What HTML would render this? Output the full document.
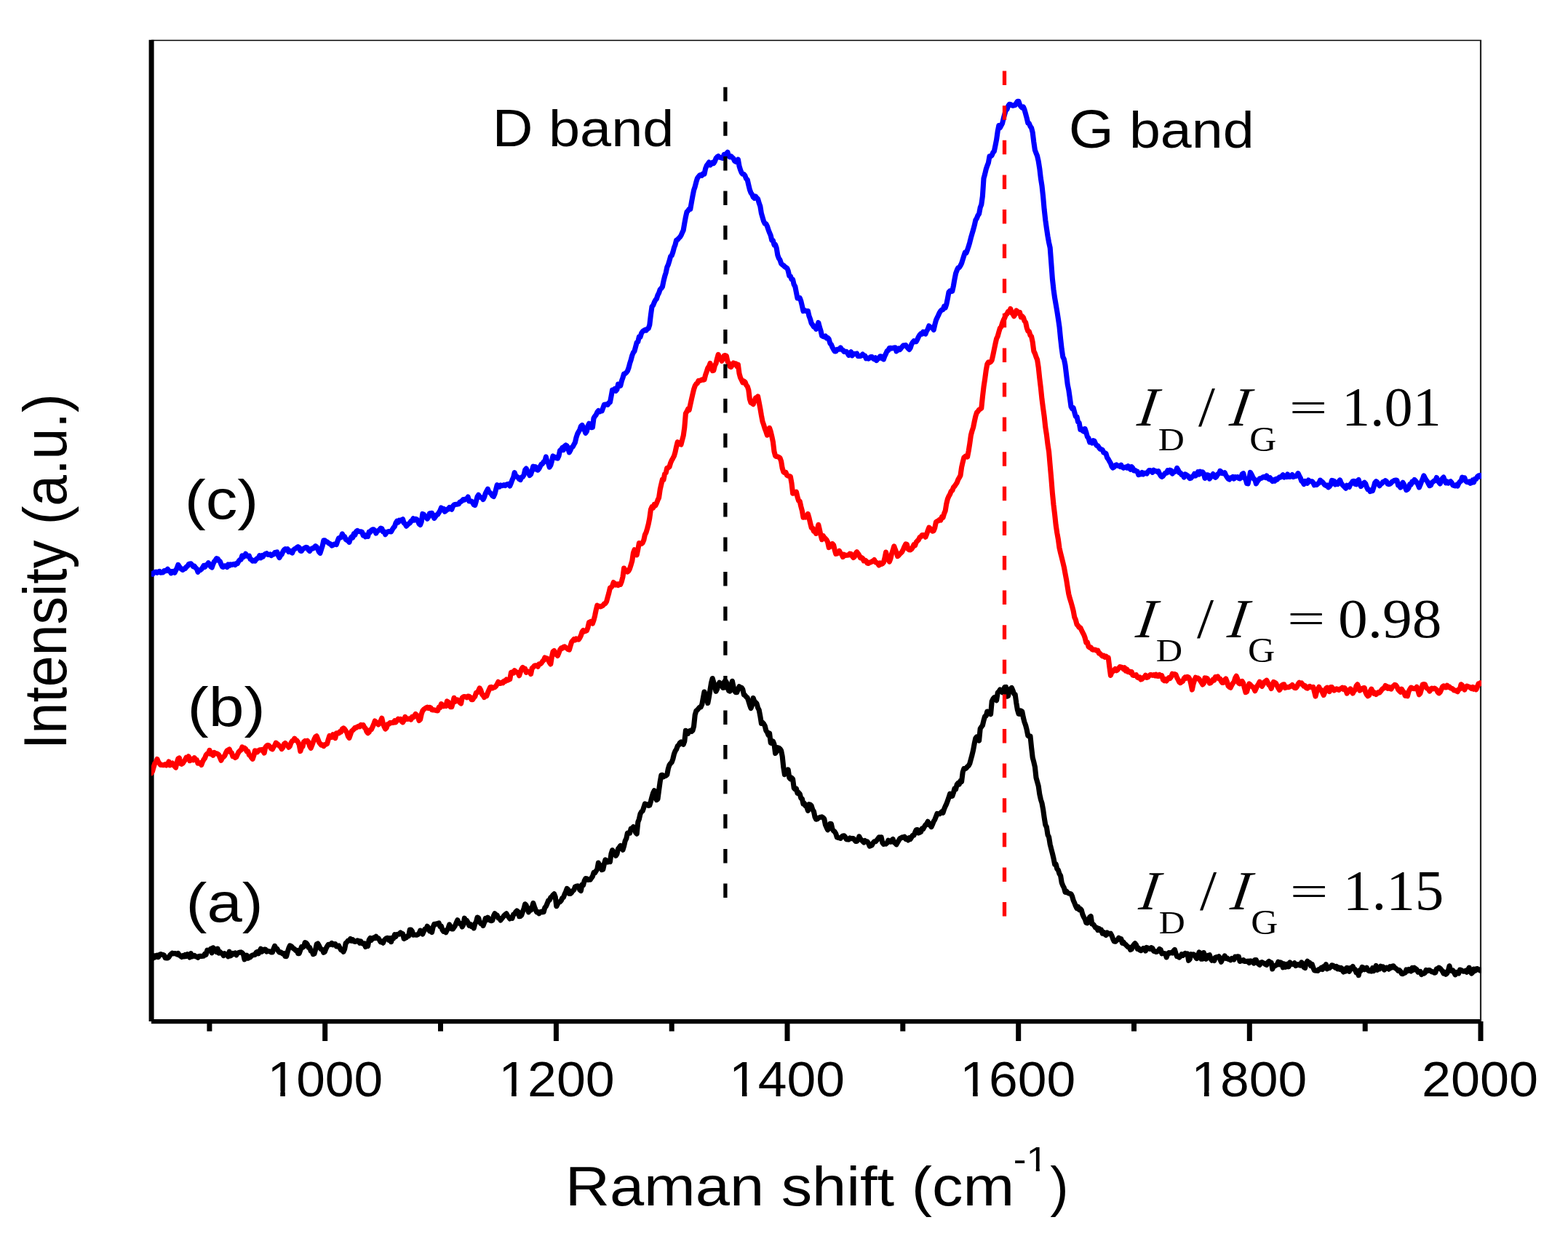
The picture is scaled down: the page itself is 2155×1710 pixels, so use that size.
<!DOCTYPE html>
<html><head><meta charset="utf-8"><title>Raman spectra</title>
<style>
html,body{margin:0;padding:0;background:#fff;}
svg{display:block;}

</style></head><body>
<svg width="2155" height="1710" viewBox="0 0 2155 1710">
<rect x="0" y="0" width="2155" height="1710" fill="#fff"/>

<g fill="#000">
<rect x="204.6" y="54.8" width="7" height="1349.2"/>
<rect x="208" y="1401" width="1827.5" height="6.2"/>
<rect x="443.2" y="1404" width="7" height="27"/>
<rect x="760.9" y="1404" width="7" height="27"/>
<rect x="1078.5" y="1404" width="7" height="27"/>
<rect x="1396.2" y="1404" width="7" height="27"/>
<rect x="1713.8" y="1404" width="7" height="27"/>
<rect x="2031.5" y="1404" width="7" height="27"/>
<rect x="284.4" y="1404" width="7" height="13.6"/>
<rect x="602.0" y="1404" width="7" height="13.6"/>
<rect x="919.7" y="1404" width="7" height="13.6"/>
<rect x="1237.3" y="1404" width="7" height="13.6"/>
<rect x="1555.0" y="1404" width="7" height="13.6"/>
<rect x="1872.7" y="1404" width="7" height="13.6"/>
</g>
<line x1="208" y1="55.6" x2="2036" y2="55.6" stroke="#000" stroke-width="1.5"/>
<line x1="2035" y1="55" x2="2035" y2="1404" stroke="#222" stroke-width="2.2"/>
<defs><clipPath id="pc"><rect x="208" y="40" width="1828" height="1364"/></clipPath></defs>
<g clip-path="url(#pc)" fill="none" stroke-width="7.1" stroke-linejoin="round" stroke-linecap="round">
<polyline stroke="#0000ff" points="208.0,788.5 209.6,789.4 211.2,787.6 212.8,786.5 214.4,786.1 216.0,787.3 217.6,786.0 219.2,785.4 220.8,787.2 222.4,787.0 224.0,786.9 225.6,784.5 227.2,785.0 228.8,784.3 230.4,782.3 232.0,785.1 233.6,785.1 235.2,787.9 236.8,785.5 238.4,785.4 240.0,787.3 241.6,784.2 243.2,780.9 244.8,776.4 246.4,778.7 248.0,781.2 249.6,782.4 251.2,783.4 252.8,781.8 254.4,781.7 256.0,779.4 257.6,778.3 259.2,775.8 260.8,775.0 262.4,774.9 264.0,776.7 265.6,778.8 267.2,778.2 268.8,780.5 270.4,781.9 272.0,786.3 273.6,784.0 275.2,783.7 276.8,782.5 278.4,780.2 280.0,777.5 281.6,779.4 283.2,776.6 284.8,776.7 286.4,773.7 288.0,775.7 289.6,778.8 291.2,780.0 292.8,775.5 294.4,772.1 296.0,770.2 297.6,767.7 299.2,768.1 300.8,770.7 302.4,771.7 304.0,776.0 305.6,779.2 307.2,779.4 308.8,777.7 310.4,778.1 312.0,779.4 313.6,776.0 315.2,777.5 316.8,775.9 318.4,776.5 320.0,775.7 321.6,775.4 323.2,776.5 324.8,774.5 326.4,774.7 328.0,771.5 329.6,769.6 331.2,769.1 332.8,763.8 334.4,765.7 336.0,764.4 337.6,761.3 339.2,764.2 340.8,764.7 342.4,764.1 344.0,768.5 345.6,769.3 347.2,771.2 348.8,770.6 350.4,771.2 352.0,768.8 353.6,767.6 355.2,767.0 356.8,763.6 358.4,766.8 360.0,763.6 361.6,764.9 363.2,762.5 364.8,761.3 366.4,760.7 368.0,762.4 369.6,762.2 371.2,761.9 372.8,763.6 374.4,762.4 376.0,762.0 377.6,759.6 379.2,759.4 380.8,758.8 382.4,763.6 384.0,766.6 385.6,763.6 387.2,762.2 388.8,758.4 390.4,755.8 392.0,754.6 393.6,756.1 395.2,754.7 396.8,758.5 398.4,757.3 400.0,759.1 401.6,760.1 403.2,756.3 404.8,754.7 406.4,754.0 408.0,752.5 409.6,751.6 411.2,752.7 412.8,757.0 414.4,757.5 416.0,754.8 417.6,754.1 419.2,753.1 420.8,752.2 422.4,752.8 424.0,755.9 425.6,757.5 427.2,755.0 428.8,753.9 430.4,753.9 432.0,752.1 433.6,750.7 435.2,751.9 436.8,755.0 438.4,758.6 440.0,760.3 441.6,755.1 443.2,750.2 444.8,742.9 446.4,742.8 448.0,744.7 449.6,744.8 451.2,746.2 452.8,747.2 454.4,748.0 456.0,750.0 457.6,749.2 459.2,748.1 460.8,748.0 462.4,748.5 464.0,743.6 465.6,739.7 467.2,739.3 468.8,738.7 470.4,733.9 472.0,737.7 473.6,737.6 475.2,741.4 476.8,742.4 478.4,743.5 480.0,745.3 481.6,740.3 483.2,737.9 484.8,738.9 486.4,733.6 488.0,735.2 489.6,730.5 491.2,729.3 492.8,730.5 494.4,730.7 496.0,730.7 497.6,731.5 499.2,736.1 500.8,735.2 502.4,737.8 504.0,736.5 505.6,737.4 507.2,731.2 508.8,731.6 510.4,729.0 512.0,727.9 513.6,727.9 515.2,729.6 516.8,733.1 518.4,730.2 520.0,729.3 521.6,728.4 523.2,726.1 524.8,726.6 526.4,730.9 528.0,730.9 529.6,734.7 531.2,732.0 532.8,730.9 534.4,730.6 536.0,730.6 537.6,730.9 539.2,727.9 540.8,725.4 542.4,723.6 544.0,718.9 545.6,716.3 547.2,718.0 548.8,715.1 550.4,716.0 552.0,714.7 553.6,713.8 555.2,719.0 556.8,720.2 558.4,723.2 560.0,721.6 561.6,720.0 563.2,719.0 564.8,716.5 566.4,715.7 568.0,712.8 569.6,715.0 571.2,713.4 572.8,713.9 574.4,716.3 576.0,720.2 577.6,721.4 579.2,717.3 580.8,706.4 582.4,707.2 584.0,709.6 585.6,710.9 587.2,713.1 588.8,710.9 590.4,705.7 592.0,705.5 593.6,705.3 595.2,709.1 596.8,712.4 598.4,710.2 600.0,707.8 601.6,707.2 603.2,704.6 604.8,702.1 606.4,698.0 608.0,700.0 609.6,699.4 611.2,703.2 612.8,702.2 614.4,700.0 616.0,700.1 617.6,697.5 619.2,699.2 620.8,700.2 622.4,695.9 624.0,694.0 625.6,693.5 627.2,693.2 628.8,693.1 630.4,692.8 632.0,690.2 633.6,689.5 635.2,688.2 636.8,686.5 638.4,687.1 640.0,685.9 641.6,685.6 643.2,683.1 644.8,689.0 646.4,689.0 648.0,689.0 649.6,690.9 651.2,693.7 652.8,694.4 654.4,688.9 656.0,682.9 657.6,680.2 659.2,682.9 660.8,683.6 662.4,684.4 664.0,686.5 665.6,683.4 667.2,678.4 668.8,675.2 670.4,672.2 672.0,676.3 673.6,677.4 675.2,679.1 676.8,681.5 678.4,682.5 680.0,679.0 681.6,672.8 683.2,666.7 684.8,667.9 686.4,669.1 688.0,666.9 689.6,667.7 691.2,667.3 692.8,666.6 694.4,667.6 696.0,666.3 697.6,665.5 699.2,665.3 700.8,667.9 702.4,664.1 704.0,659.6 705.6,656.3 707.2,649.7 708.8,654.0 710.4,655.2 712.0,656.4 713.6,658.6 715.2,659.6 716.8,655.9 718.4,655.6 720.0,653.0 721.6,646.2 723.2,644.0 724.8,647.7 726.4,650.0 728.0,653.5 729.6,652.0 731.2,646.7 732.8,641.1 734.4,644.9 736.0,641.7 737.6,645.4 739.2,646.2 740.8,644.3 742.4,641.1 744.0,638.3 745.6,637.5 747.2,634.8 748.8,633.8 750.4,628.0 752.0,634.7 753.6,636.7 755.2,642.2 756.8,639.7 758.4,634.0 760.0,626.9 761.6,628.6 763.2,628.4 764.8,629.8 766.4,630.1 768.0,626.8 769.6,619.3 771.2,618.3 772.8,615.4 774.4,618.6 776.0,613.2 777.6,611.9 779.2,613.0 780.8,617.0 782.4,621.8 784.0,618.9 785.6,615.0 787.2,614.1 788.8,611.1 790.4,608.3 792.0,601.3 793.6,596.5 795.2,593.5 796.8,590.9 798.4,585.8 800.0,584.4 801.6,587.6 803.2,591.0 804.8,595.4 806.4,592.9 808.0,585.6 809.6,582.3 811.2,585.2 812.8,587.7 814.4,587.5 816.0,574.8 817.6,572.2 819.2,570.2 820.8,566.7 822.4,564.5 824.0,565.9 825.6,564.9 827.2,565.0 828.8,560.7 830.4,556.3 832.0,556.0 833.6,555.9 835.2,556.4 836.8,553.8 838.4,553.1 840.0,544.8 841.6,536.0 843.2,536.1 844.8,534.5 846.4,537.4 848.0,535.3 849.6,528.1 851.2,528.8 852.8,530.2 854.4,523.7 856.0,519.1 857.6,513.9 859.2,513.5 860.8,512.1 862.4,510.1 864.0,505.8 865.6,499.5 867.2,494.6 868.8,488.5 870.4,484.6 872.0,482.7 873.6,476.7 875.2,470.8 876.8,469.6 878.4,462.8 880.0,463.1 881.6,458.0 883.2,455.6 884.8,454.4 886.4,453.4 888.0,454.2 889.6,452.2 891.2,451.3 892.8,446.6 894.4,432.9 896.0,421.5 897.6,419.7 899.2,415.7 900.8,412.5 902.4,410.6 904.0,405.6 905.6,402.6 907.2,397.8 908.8,396.4 910.4,394.2 912.0,386.4 913.6,379.9 915.2,374.8 916.8,367.3 918.4,363.8 920.0,358.4 921.6,352.6 923.2,351.3 924.8,346.8 926.4,340.6 928.0,336.4 929.6,330.1 931.2,329.5 932.8,327.5 934.4,326.0 936.0,323.6 937.6,319.9 939.2,316.4 940.8,306.8 942.4,298.2 944.0,291.3 945.6,289.7 947.2,287.4 948.8,287.4 950.4,278.2 952.0,269.4 953.6,261.4 955.2,256.6 956.8,250.3 958.4,245.1 960.0,242.9 961.6,240.9 963.2,240.4 964.8,241.2 966.4,238.6 968.0,239.2 969.6,231.8 971.2,227.7 972.8,225.5 974.4,223.1 976.0,226.9 977.6,225.4 979.2,223.5 980.8,224.6 982.4,222.0 984.0,217.6 985.6,215.8 987.2,214.7 988.8,216.3 990.4,216.5 992.0,217.1 993.6,217.5 995.2,212.3 996.8,212.5 998.4,211.7 1000.0,209.3 1001.6,214.6 1003.2,215.8 1004.8,214.8 1006.4,216.4 1008.0,217.8 1009.6,221.3 1011.2,222.3 1012.8,221.1 1014.4,219.2 1016.0,228.4 1017.6,233.5 1019.2,237.5 1020.8,239.3 1022.4,239.5 1024.0,241.7 1025.6,245.7 1027.2,247.1 1028.8,254.1 1030.4,260.8 1032.0,265.1 1033.6,267.1 1035.2,270.9 1036.8,272.4 1038.4,270.0 1040.0,272.0 1041.6,273.6 1043.2,279.1 1044.8,283.4 1046.4,293.3 1048.0,298.7 1049.6,304.2 1051.2,307.3 1052.8,307.7 1054.4,310.8 1056.0,315.7 1057.6,319.9 1059.2,323.7 1060.8,330.3 1062.4,330.6 1064.0,336.6 1065.6,336.3 1067.2,341.0 1068.8,350.7 1070.4,355.0 1072.0,357.3 1073.6,362.2 1075.2,363.9 1076.8,364.8 1078.4,366.5 1080.0,367.6 1081.6,368.5 1083.2,372.2 1084.8,379.3 1086.4,379.7 1088.0,384.0 1089.6,384.2 1091.2,391.2 1092.8,393.8 1094.4,401.9 1096.0,409.9 1097.6,409.9 1099.2,409.5 1100.8,413.7 1102.4,420.5 1104.0,427.6 1105.6,426.5 1107.2,427.3 1108.8,427.8 1110.4,427.6 1112.0,434.6 1113.6,438.8 1115.2,444.4 1116.8,446.5 1118.4,449.2 1120.0,449.3 1121.6,452.3 1123.2,448.1 1124.8,443.5 1126.4,449.7 1128.0,454.5 1129.6,461.6 1131.2,462.6 1132.8,462.9 1134.4,461.9 1136.0,464.9 1137.6,464.3 1139.2,466.1 1140.8,471.9 1142.4,473.5 1144.0,477.4 1145.6,480.4 1147.2,483.0 1148.8,483.0 1150.4,480.2 1152.0,480.3 1153.6,480.2 1155.2,477.9 1156.8,480.5 1158.4,481.2 1160.0,483.4 1161.6,483.5 1163.2,483.3 1164.8,485.5 1166.4,488.3 1168.0,485.0 1169.6,483.7 1171.2,488.8 1172.8,487.1 1174.4,486.2 1176.0,486.6 1177.6,486.0 1179.2,489.4 1180.8,489.6 1182.4,489.4 1184.0,488.7 1185.6,487.1 1187.2,488.8 1188.8,489.1 1190.4,492.8 1192.0,491.9 1193.6,493.1 1195.2,491.9 1196.8,490.6 1198.4,490.6 1200.0,492.7 1201.6,493.8 1203.2,491.8 1204.8,495.5 1206.4,492.9 1208.0,492.7 1209.6,489.7 1211.2,490.0 1212.8,493.0 1214.4,493.9 1216.0,489.4 1217.6,486.1 1219.2,482.4 1220.8,481.6 1222.4,478.4 1224.0,478.2 1225.6,479.0 1227.2,478.4 1228.8,478.0 1230.4,477.8 1232.0,482.8 1233.6,481.5 1235.2,479.0 1236.8,480.6 1238.4,478.5 1240.0,476.7 1241.6,474.9 1243.2,474.8 1244.8,474.4 1246.4,476.9 1248.0,478.7 1249.6,480.4 1251.2,478.2 1252.8,473.2 1254.4,470.6 1256.0,468.7 1257.6,469.7 1259.2,469.7 1260.8,466.7 1262.4,463.0 1264.0,460.4 1265.6,458.7 1267.2,459.2 1268.8,456.1 1270.4,457.7 1272.0,459.0 1273.6,454.8 1275.2,452.3 1276.8,448.0 1278.4,449.9 1280.0,450.0 1281.6,450.9 1283.2,453.4 1284.8,446.4 1286.4,440.3 1288.0,436.8 1289.6,433.5 1291.2,429.9 1292.8,427.4 1294.4,426.0 1296.0,425.6 1297.6,421.2 1299.2,423.0 1300.8,418.3 1302.4,410.3 1304.0,401.7 1305.6,399.9 1307.2,400.6 1308.8,400.2 1310.4,392.9 1312.0,383.7 1313.6,375.7 1315.2,371.4 1316.8,368.1 1318.4,367.6 1320.0,365.1 1321.6,361.9 1323.2,356.7 1324.8,351.7 1326.4,346.9 1328.0,347.6 1329.6,343.5 1331.2,338.7 1332.8,333.2 1334.4,326.8 1336.0,321.2 1337.6,315.9 1339.2,309.9 1340.8,302.7 1342.4,300.1 1344.0,296.1 1345.6,293.9 1347.2,285.3 1348.8,281.2 1350.4,269.5 1352.0,245.3 1353.6,239.5 1355.2,232.6 1356.8,227.8 1358.4,223.9 1360.0,214.9 1361.6,214.9 1363.2,213.5 1364.8,209.6 1366.4,207.8 1368.0,200.0 1369.6,191.9 1371.2,180.4 1372.8,172.5 1374.4,175.5 1376.0,172.5 1377.6,169.5 1379.2,162.7 1380.8,157.0 1382.4,151.3 1384.0,150.4 1385.6,145.9 1387.2,143.3 1388.8,143.5 1390.4,144.5 1392.0,145.3 1393.6,144.8 1395.2,144.5 1396.8,141.7 1398.4,139.4 1400.0,139.4 1401.6,144.2 1403.2,146.6 1404.8,148.0 1406.4,146.9 1408.0,150.7 1409.6,156.5 1411.2,162.4 1412.8,169.2 1414.4,169.7 1416.0,173.7 1417.6,175.9 1419.2,182.1 1420.8,195.3 1422.4,206.2 1424.0,210.4 1425.6,214.4 1427.2,221.6 1428.8,231.7 1430.4,245.4 1432.0,255.4 1433.6,270.2 1435.2,288.2 1436.8,302.5 1438.4,314.0 1440.0,324.6 1441.6,333.5 1443.2,340.6 1444.8,361.8 1446.4,383.5 1448.0,397.9 1449.6,409.4 1451.2,418.7 1452.8,428.0 1454.4,438.2 1456.0,449.2 1457.6,465.6 1459.2,479.8 1460.8,490.7 1462.4,493.9 1464.0,501.8 1465.6,515.0 1467.2,528.4 1468.8,536.1 1470.4,547.2 1472.0,558.9 1473.6,561.7 1475.2,560.8 1476.8,566.9 1478.4,572.6 1480.0,572.7 1481.6,580.0 1483.2,581.3 1484.8,590.5 1486.4,589.4 1488.0,592.2 1489.6,593.1 1491.2,589.5 1492.8,594.3 1494.4,600.3 1496.0,602.1 1497.6,607.8 1499.2,607.2 1500.8,608.9 1502.4,605.6 1504.0,606.1 1505.6,609.9 1507.2,612.5 1508.8,612.8 1510.4,615.2 1512.0,617.2 1513.6,617.6 1515.2,618.4 1516.8,622.0 1518.4,622.6 1520.0,623.6 1521.6,629.0 1523.2,631.1 1524.8,634.1 1526.4,636.8 1528.0,641.2 1529.6,643.1 1531.2,642.1 1532.8,639.7 1534.4,638.8 1536.0,640.2 1537.6,640.3 1539.2,641.4 1540.8,639.2 1542.4,642.0 1544.0,643.3 1545.6,642.6 1547.2,641.9 1548.8,643.1 1550.4,640.7 1552.0,642.0 1553.6,645.3 1555.2,641.6 1556.8,643.4 1558.4,646.9 1560.0,646.4 1561.6,647.7 1563.2,648.2 1564.8,652.7 1566.4,651.2 1568.0,651.9 1569.6,649.4 1571.2,651.9 1572.8,650.4 1574.4,650.4 1576.0,651.1 1577.6,648.8 1579.2,646.6 1580.8,646.5 1582.4,647.8 1584.0,649.3 1585.6,646.3 1587.2,647.4 1588.8,647.5 1590.4,648.5 1592.0,647.6 1593.6,651.3 1595.2,654.1 1596.8,655.3 1598.4,654.4 1600.0,652.0 1601.6,650.2 1603.2,650.2 1604.8,646.7 1606.4,648.7 1608.0,646.2 1609.6,646.8 1611.2,651.1 1612.8,648.9 1614.4,648.4 1616.0,648.1 1617.6,643.3 1619.2,646.0 1620.8,649.8 1622.4,650.0 1624.0,652.8 1625.6,652.7 1627.2,656.0 1628.8,651.8 1630.4,652.8 1632.0,653.6 1633.6,655.5 1635.2,657.6 1636.8,657.1 1638.4,655.2 1640.0,654.4 1641.6,651.3 1643.2,653.9 1644.8,652.3 1646.4,648.8 1648.0,652.1 1649.6,648.3 1651.2,650.6 1652.8,648.9 1654.4,651.1 1656.0,657.4 1657.6,653.2 1659.2,652.8 1660.8,653.2 1662.4,658.1 1664.0,655.7 1665.6,654.0 1667.2,651.6 1668.8,655.0 1670.4,656.3 1672.0,654.8 1673.6,651.7 1675.2,651.3 1676.8,647.3 1678.4,648.5 1680.0,650.8 1681.6,650.8 1683.2,649.7 1684.8,653.4 1686.4,655.9 1688.0,658.0 1689.6,659.1 1691.2,656.9 1692.8,657.2 1694.4,655.5 1696.0,658.1 1697.6,655.6 1699.2,656.1 1700.8,655.6 1702.4,657.4 1704.0,658.0 1705.6,656.1 1707.2,651.6 1708.8,650.8 1710.4,657.3 1712.0,658.6 1713.6,664.5 1715.2,664.9 1716.8,657.2 1718.4,649.4 1720.0,652.0 1721.6,655.3 1723.2,658.4 1724.8,659.3 1726.4,664.9 1728.0,661.9 1729.6,660.0 1731.2,657.8 1732.8,657.6 1734.4,656.9 1736.0,655.8 1737.6,655.5 1739.2,656.5 1740.8,653.9 1742.4,656.9 1744.0,658.5 1745.6,656.8 1747.2,660.0 1748.8,661.5 1750.4,659.8 1752.0,661.2 1753.6,658.5 1755.2,659.1 1756.8,657.2 1758.4,655.9 1760.0,656.1 1761.6,654.8 1763.2,652.8 1764.8,656.0 1766.4,654.6 1768.0,655.6 1769.6,652.0 1771.2,655.5 1772.8,655.4 1774.4,654.7 1776.0,652.5 1777.6,655.5 1779.2,654.8 1780.8,654.7 1782.4,653.4 1784.0,650.6 1785.6,653.8 1787.2,656.8 1788.8,661.3 1790.4,662.2 1792.0,665.5 1793.6,661.3 1795.2,662.5 1796.8,664.2 1798.4,660.0 1800.0,661.8 1801.6,661.7 1803.2,661.8 1804.8,663.5 1806.4,666.9 1808.0,665.8 1809.6,666.4 1811.2,664.8 1812.8,663.9 1814.4,660.1 1816.0,661.7 1817.6,662.6 1819.2,664.7 1820.8,666.6 1822.4,667.6 1824.0,667.0 1825.6,669.9 1827.2,668.7 1828.8,666.5 1830.4,660.4 1832.0,660.8 1833.6,661.4 1835.2,666.0 1836.8,665.4 1838.4,665.6 1840.0,661.8 1841.6,659.9 1843.2,664.0 1844.8,666.2 1846.4,667.9 1848.0,669.4 1849.6,671.3 1851.2,667.2 1852.8,668.3 1854.4,669.4 1856.0,665.7 1857.6,664.0 1859.2,661.5 1860.8,661.3 1862.4,665.4 1864.0,665.8 1865.6,661.0 1867.2,659.5 1868.8,665.0 1870.4,668.5 1872.0,666.6 1873.6,664.5 1875.2,663.3 1876.8,665.0 1878.4,669.6 1880.0,672.9 1881.6,673.3 1883.2,675.6 1884.8,674.9 1886.4,674.7 1888.0,669.6 1889.6,663.7 1891.2,661.7 1892.8,662.9 1894.4,665.5 1896.0,667.7 1897.6,665.6 1899.2,664.6 1900.8,662.2 1902.4,662.4 1904.0,660.7 1905.6,661.9 1907.2,665.2 1908.8,665.7 1910.4,665.2 1912.0,663.8 1913.6,661.9 1915.2,661.1 1916.8,660.2 1918.4,660.0 1920.0,660.5 1921.6,667.2 1923.2,667.8 1924.8,670.1 1926.4,665.7 1928.0,663.3 1929.6,665.9 1931.2,669.6 1932.8,673.6 1934.4,672.8 1936.0,670.8 1937.6,665.6 1939.2,666.1 1940.8,662.2 1942.4,662.8 1944.0,659.5 1945.6,661.1 1947.2,663.1 1948.8,665.9 1950.4,670.0 1952.0,666.4 1953.6,662.1 1955.2,658.6 1956.8,653.9 1958.4,657.0 1960.0,659.8 1961.6,661.7 1963.2,664.9 1964.8,667.7 1966.4,667.0 1968.0,663.3 1969.6,662.3 1971.2,660.7 1972.8,660.8 1974.4,656.5 1976.0,660.1 1977.6,663.0 1979.2,664.9 1980.8,660.7 1982.4,657.6 1984.0,656.1 1985.6,660.6 1987.2,663.9 1988.8,661.9 1990.4,664.1 1992.0,662.7 1993.6,661.7 1995.2,663.6 1996.8,667.1 1998.4,667.4 2000.0,668.0 2001.6,666.5 2003.2,668.0 2004.8,664.5 2006.4,662.1 2008.0,661.3 2009.6,656.1 2011.2,657.2 2012.8,656.8 2014.4,661.1 2016.0,662.5 2017.6,662.9 2019.2,662.0 2020.8,664.4 2022.4,663.6 2024.0,659.9 2025.6,662.8 2027.2,658.4 2028.8,658.5 2030.4,655.2 2032.0,653.9 2033.6,655.1 2034.5,653.5"/>
<polyline stroke="#ff0000" points="208.0,1062.8 209.6,1060.1 211.2,1054.4 212.8,1049.3 214.4,1047.5 216.0,1043.5 217.6,1047.3 219.2,1049.4 220.8,1051.5 222.4,1051.5 224.0,1051.6 225.6,1051.6 227.2,1050.6 228.8,1052.0 230.4,1050.5 232.0,1047.0 233.6,1051.9 235.2,1049.7 236.8,1049.0 238.4,1051.6 240.0,1053.4 241.6,1055.1 243.2,1047.9 244.8,1043.0 246.4,1041.9 248.0,1049.5 249.6,1050.3 251.2,1049.3 252.8,1046.9 254.4,1044.5 256.0,1041.3 257.6,1042.9 259.2,1039.8 260.8,1045.7 262.4,1044.8 264.0,1043.5 265.6,1044.8 267.2,1041.6 268.8,1044.7 270.4,1044.5 272.0,1049.3 273.6,1049.1 275.2,1048.8 276.8,1051.4 278.4,1047.2 280.0,1044.1 281.6,1042.0 283.2,1037.8 284.8,1036.0 286.4,1035.6 288.0,1031.3 289.6,1036.3 291.2,1036.0 292.8,1038.3 294.4,1034.4 296.0,1035.5 297.6,1035.7 299.2,1036.5 300.8,1037.6 302.4,1041.6 304.0,1045.2 305.6,1041.5 307.2,1040.5 308.8,1038.8 310.4,1035.0 312.0,1032.0 313.6,1030.9 315.2,1029.9 316.8,1033.8 318.4,1034.9 320.0,1039.8 321.6,1040.0 323.2,1041.6 324.8,1040.6 326.4,1037.0 328.0,1033.8 329.6,1032.1 331.2,1031.1 332.8,1026.9 334.4,1028.9 336.0,1028.2 337.6,1029.5 339.2,1033.0 340.8,1032.8 342.4,1037.6 344.0,1038.8 345.6,1041.5 347.2,1043.3 348.8,1038.7 350.4,1031.9 352.0,1032.3 353.6,1033.8 355.2,1031.8 356.8,1030.9 358.4,1030.8 360.0,1030.4 361.6,1032.5 363.2,1035.1 364.8,1027.2 366.4,1025.3 368.0,1024.3 369.6,1024.9 371.2,1026.9 372.8,1029.1 374.4,1029.9 376.0,1026.6 377.6,1024.9 379.2,1021.1 380.8,1022.3 382.4,1023.5 384.0,1025.5 385.6,1026.5 387.2,1029.6 388.8,1027.6 390.4,1022.8 392.0,1021.5 393.6,1023.6 395.2,1024.5 396.8,1027.2 398.4,1025.5 400.0,1021.1 401.6,1018.5 403.2,1017.9 404.8,1015.1 406.4,1017.2 408.0,1018.0 409.6,1020.3 411.2,1023.6 412.8,1032.6 414.4,1027.7 416.0,1026.2 417.6,1019.7 419.2,1018.4 420.8,1019.1 422.4,1018.2 424.0,1020.4 425.6,1025.5 427.2,1028.4 428.8,1024.5 430.4,1020.1 432.0,1015.9 433.6,1012.8 435.2,1011.8 436.8,1015.8 438.4,1020.1 440.0,1022.3 441.6,1024.2 443.2,1023.9 444.8,1025.6 446.4,1023.7 448.0,1023.2 449.6,1022.3 451.2,1016.5 452.8,1011.5 454.4,1013.4 456.0,1013.5 457.6,1009.8 459.2,1012.5 460.8,1014.6 462.4,1007.9 464.0,1007.9 465.6,1007.9 467.2,1005.6 468.8,1006.1 470.4,1001.9 472.0,1000.9 473.6,1002.1 475.2,1004.5 476.8,1007.1 478.4,1012.1 480.0,1014.3 481.6,1009.8 483.2,1005.1 484.8,1003.9 486.4,1002.2 488.0,1000.2 489.6,1000.4 491.2,999.0 492.8,998.4 494.4,998.9 496.0,996.4 497.6,997.3 499.2,996.6 500.8,999.9 502.4,1001.4 504.0,1005.8 505.6,1007.7 507.2,1006.3 508.8,1003.1 510.4,1002.7 512.0,999.3 513.6,995.8 515.2,991.0 516.8,992.5 518.4,993.8 520.0,995.9 521.6,994.6 523.2,991.0 524.8,987.2 526.4,994.3 528.0,998.7 529.6,1002.0 531.2,1000.4 532.8,995.6 534.4,995.3 536.0,993.5 537.6,993.8 539.2,993.4 540.8,993.5 542.4,990.7 544.0,992.7 545.6,990.6 547.2,988.3 548.8,989.2 550.4,988.5 552.0,991.6 553.6,992.8 555.2,990.4 556.8,985.4 558.4,988.4 560.0,988.5 561.6,988.0 563.2,987.9 564.8,989.1 566.4,985.5 568.0,986.1 569.6,984.0 571.2,981.5 572.8,983.0 574.4,985.9 576.0,990.5 577.6,989.0 579.2,981.7 580.8,977.1 582.4,975.2 584.0,974.0 585.6,973.0 587.2,972.2 588.8,973.6 590.4,972.3 592.0,973.0 593.6,975.8 595.2,976.0 596.8,975.8 598.4,976.3 600.0,976.7 601.6,976.9 603.2,972.1 604.8,972.7 606.4,967.6 608.0,968.9 609.6,970.8 611.2,969.8 612.8,970.5 614.4,963.9 616.0,964.9 617.6,969.7 619.2,971.7 620.8,971.8 622.4,966.3 624.0,959.3 625.6,964.3 627.2,961.8 628.8,962.0 630.4,963.7 632.0,965.7 633.6,967.0 635.2,959.1 636.8,958.0 638.4,957.5 640.0,957.7 641.6,958.8 643.2,957.1 644.8,957.3 646.4,958.6 648.0,961.7 649.6,961.6 651.2,958.9 652.8,957.4 654.4,952.4 656.0,951.9 657.6,949.2 659.2,945.9 660.8,948.8 662.4,954.3 664.0,956.0 665.6,958.6 667.2,955.6 668.8,956.6 670.4,952.2 672.0,948.5 673.6,944.8 675.2,944.4 676.8,945.9 678.4,944.9 680.0,944.7 681.6,943.2 683.2,940.4 684.8,937.3 686.4,939.4 688.0,939.4 689.6,938.1 691.2,938.8 692.8,936.1 694.4,936.6 696.0,934.1 697.6,935.2 699.2,934.3 700.8,933.7 702.4,924.5 704.0,924.0 705.6,925.0 707.2,921.6 708.8,923.8 710.4,924.1 712.0,924.8 713.6,928.7 715.2,923.9 716.8,919.7 718.4,917.4 720.0,919.0 721.6,919.1 723.2,924.3 724.8,922.8 726.4,923.6 728.0,923.6 729.6,926.5 731.2,918.5 732.8,917.2 734.4,915.2 736.0,914.8 737.6,914.7 739.2,916.2 740.8,912.7 742.4,912.7 744.0,911.6 745.6,909.1 747.2,907.7 748.8,904.0 750.4,904.8 752.0,905.0 753.6,907.5 755.2,910.6 756.8,912.9 758.4,902.9 760.0,895.8 761.6,894.5 763.2,899.1 764.8,899.9 766.4,901.4 768.0,897.6 769.6,893.3 771.2,890.8 772.8,891.3 774.4,889.4 776.0,888.8 777.6,890.3 779.2,891.1 780.8,892.6 782.4,893.1 784.0,887.8 785.6,882.5 787.2,880.6 788.8,878.6 790.4,879.7 792.0,878.0 793.6,878.9 795.2,879.1 796.8,876.9 798.4,873.7 800.0,868.6 801.6,866.5 803.2,868.1 804.8,867.4 806.4,866.7 808.0,862.4 809.6,855.3 811.2,854.8 812.8,854.1 814.4,857.1 816.0,852.6 817.6,846.3 819.2,838.5 820.8,832.1 822.4,833.8 824.0,833.3 825.6,833.9 827.2,833.1 828.8,832.2 830.4,830.0 832.0,829.5 833.6,826.9 835.2,820.9 836.8,815.2 838.4,808.2 840.0,807.3 841.6,805.4 843.2,800.5 844.8,802.3 846.4,804.0 848.0,802.9 849.6,804.5 851.2,802.6 852.8,803.3 854.4,799.2 856.0,792.8 857.6,781.0 859.2,783.9 860.8,784.1 862.4,786.1 864.0,784.6 865.6,781.5 867.2,776.4 868.8,771.0 870.4,759.9 872.0,755.7 873.6,758.1 875.2,762.8 876.8,755.1 878.4,746.5 880.0,747.7 881.6,747.5 883.2,746.2 884.8,742.4 886.4,735.1 888.0,731.9 889.6,726.5 891.2,720.4 892.8,712.2 894.4,700.4 896.0,696.8 897.6,698.0 899.2,693.5 900.8,694.9 902.4,691.7 904.0,687.4 905.6,684.1 907.2,672.9 908.8,665.9 910.4,659.1 912.0,659.2 913.6,651.4 915.2,649.8 916.8,643.2 918.4,642.9 920.0,641.7 921.6,636.4 923.2,632.7 924.8,629.9 926.4,626.9 928.0,621.5 929.6,614.1 931.2,607.6 932.8,609.8 934.4,610.0 936.0,611.0 937.6,604.8 939.2,598.9 940.8,587.5 942.4,568.3 944.0,565.7 945.6,562.3 947.2,563.6 948.8,556.0 950.4,548.7 952.0,541.7 953.6,535.1 955.2,530.3 956.8,527.8 958.4,526.7 960.0,523.3 961.6,523.3 963.2,522.8 964.8,521.8 966.4,522.3 968.0,521.9 969.6,515.4 971.2,510.8 972.8,505.8 974.4,503.7 976.0,499.4 977.6,504.9 979.2,509.6 980.8,509.2 982.4,502.6 984.0,499.6 985.6,492.9 987.2,487.3 988.8,491.0 990.4,492.5 992.0,496.2 993.6,493.1 995.2,489.0 996.8,488.5 998.4,489.4 1000.0,497.0 1001.6,499.2 1003.2,503.7 1004.8,504.4 1006.4,501.9 1008.0,498.9 1009.6,500.6 1011.2,499.9 1012.8,503.4 1014.4,501.2 1016.0,513.4 1017.6,519.2 1019.2,522.3 1020.8,525.9 1022.4,524.0 1024.0,525.1 1025.6,529.3 1027.2,531.2 1028.8,536.0 1030.4,548.7 1032.0,553.6 1033.6,554.3 1035.2,555.7 1036.8,551.4 1038.4,547.2 1040.0,547.6 1041.6,544.9 1043.2,553.0 1044.8,561.3 1046.4,570.9 1048.0,579.3 1049.6,583.9 1051.2,589.2 1052.8,593.3 1054.4,598.1 1056.0,596.0 1057.6,588.3 1059.2,593.2 1060.8,599.8 1062.4,607.4 1064.0,620.6 1065.6,626.7 1067.2,627.5 1068.8,627.7 1070.4,628.4 1072.0,629.6 1073.6,633.9 1075.2,643.7 1076.8,648.7 1078.4,649.8 1080.0,649.4 1081.6,653.3 1083.2,654.3 1084.8,654.5 1086.4,655.3 1088.0,664.2 1089.6,678.2 1091.2,677.8 1092.8,676.6 1094.4,676.1 1096.0,683.1 1097.6,688.2 1099.2,689.1 1100.8,696.1 1102.4,702.1 1104.0,711.2 1105.6,710.1 1107.2,711.1 1108.8,709.5 1110.4,706.4 1112.0,712.0 1113.6,718.9 1115.2,725.4 1116.8,726.1 1118.4,730.3 1120.0,730.6 1121.6,733.4 1123.2,728.0 1124.8,721.3 1126.4,728.1 1128.0,735.6 1129.6,741.7 1131.2,736.5 1132.8,739.0 1134.4,740.3 1136.0,742.1 1137.6,745.2 1139.2,752.6 1140.8,751.6 1142.4,749.2 1144.0,747.4 1145.6,749.1 1147.2,755.9 1148.8,761.4 1150.4,761.0 1152.0,760.1 1153.6,757.3 1155.2,760.3 1156.8,762.1 1158.4,765.6 1160.0,762.3 1161.6,763.6 1163.2,763.2 1164.8,763.1 1166.4,763.0 1168.0,761.1 1169.6,761.5 1171.2,764.3 1172.8,766.5 1174.4,765.4 1176.0,760.9 1177.6,758.7 1179.2,760.8 1180.8,763.2 1182.4,766.8 1184.0,766.4 1185.6,767.4 1187.2,770.9 1188.8,770.0 1190.4,771.1 1192.0,774.1 1193.6,774.5 1195.2,773.0 1196.8,773.0 1198.4,771.8 1200.0,771.1 1201.6,769.6 1203.2,772.8 1204.8,773.3 1206.4,774.6 1208.0,777.1 1209.6,774.0 1211.2,775.5 1212.8,774.7 1214.4,773.0 1216.0,767.0 1217.6,759.0 1219.2,765.9 1220.8,769.1 1222.4,772.1 1224.0,767.7 1225.6,760.8 1227.2,756.2 1228.8,750.9 1230.4,755.5 1232.0,759.3 1233.6,764.6 1235.2,763.4 1236.8,761.3 1238.4,760.0 1240.0,758.1 1241.6,754.7 1243.2,751.0 1244.8,747.8 1246.4,748.4 1248.0,754.6 1249.6,755.7 1251.2,755.9 1252.8,754.7 1254.4,752.3 1256.0,748.7 1257.6,749.8 1259.2,745.4 1260.8,743.5 1262.4,742.1 1264.0,738.7 1265.6,737.8 1267.2,735.6 1268.8,735.4 1270.4,735.9 1272.0,738.2 1273.6,734.1 1275.2,729.5 1276.8,725.1 1278.4,726.4 1280.0,728.8 1281.6,730.2 1283.2,729.6 1284.8,725.4 1286.4,717.6 1288.0,716.5 1289.6,715.9 1291.2,714.4 1292.8,715.1 1294.4,710.6 1296.0,711.4 1297.6,706.0 1299.2,702.2 1300.8,692.3 1302.4,685.9 1304.0,682.1 1305.6,679.5 1307.2,675.3 1308.8,674.1 1310.4,670.0 1312.0,668.3 1313.6,665.9 1315.2,663.5 1316.8,659.3 1318.4,656.5 1320.0,653.5 1321.6,642.3 1323.2,635.3 1324.8,629.0 1326.4,627.6 1328.0,626.6 1329.6,628.0 1331.2,619.9 1332.8,609.8 1334.4,598.2 1336.0,592.3 1337.6,587.5 1339.2,579.5 1340.8,572.3 1342.4,567.2 1344.0,565.7 1345.6,563.2 1347.2,562.2 1348.8,561.1 1350.4,545.5 1352.0,531.8 1353.6,521.3 1355.2,509.2 1356.8,500.5 1358.4,497.8 1360.0,498.4 1361.6,497.3 1363.2,495.1 1364.8,487.9 1366.4,480.1 1368.0,472.5 1369.6,465.5 1371.2,462.2 1372.8,456.4 1374.4,450.9 1376.0,449.3 1377.6,443.9 1379.2,440.0 1380.8,436.9 1382.4,433.0 1384.0,431.4 1385.6,428.2 1387.2,428.1 1388.8,424.4 1390.4,430.2 1392.0,431.6 1393.6,434.7 1395.2,432.1 1396.8,426.8 1398.4,428.2 1400.0,430.2 1401.6,429.5 1403.2,436.0 1404.8,434.7 1406.4,436.4 1408.0,441.1 1409.6,443.1 1411.2,450.6 1412.8,455.1 1414.4,455.8 1416.0,460.9 1417.6,462.7 1419.2,470.3 1420.8,482.6 1422.4,485.9 1424.0,490.7 1425.6,494.5 1427.2,504.9 1428.8,520.0 1430.4,533.2 1432.0,548.8 1433.6,561.1 1435.2,572.6 1436.8,587.3 1438.4,597.6 1440.0,610.9 1441.6,621.0 1443.2,639.6 1444.8,657.8 1446.4,677.7 1448.0,693.9 1449.6,707.1 1451.2,722.1 1452.8,732.6 1454.4,741.5 1456.0,753.3 1457.6,760.2 1459.2,766.5 1460.8,773.0 1462.4,779.7 1464.0,788.3 1465.6,796.8 1467.2,807.0 1468.8,816.6 1470.4,822.8 1472.0,827.9 1473.6,833.6 1475.2,839.9 1476.8,848.6 1478.4,852.1 1480.0,858.3 1481.6,860.0 1483.2,862.5 1484.8,862.7 1486.4,866.2 1488.0,869.6 1489.6,872.4 1491.2,876.8 1492.8,883.3 1494.4,882.9 1496.0,888.8 1497.6,890.2 1499.2,889.8 1500.8,892.5 1502.4,893.3 1504.0,893.0 1505.6,893.3 1507.2,894.6 1508.8,894.2 1510.4,898.0 1512.0,898.5 1513.6,900.3 1515.2,901.8 1516.8,901.2 1518.4,903.2 1520.0,902.1 1521.6,903.7 1523.2,903.9 1524.8,916.5 1526.4,928.4 1528.0,924.0 1529.6,922.9 1531.2,921.3 1532.8,919.4 1534.4,921.8 1536.0,920.7 1537.6,918.5 1539.2,916.6 1540.8,917.1 1542.4,917.4 1544.0,919.8 1545.6,917.7 1547.2,922.2 1548.8,920.1 1550.4,923.5 1552.0,922.8 1553.6,924.7 1555.2,923.4 1556.8,928.1 1558.4,928.5 1560.0,928.2 1561.6,927.7 1563.2,931.0 1564.8,931.8 1566.4,930.9 1568.0,934.0 1569.6,933.4 1571.2,931.4 1572.8,931.0 1574.4,928.3 1576.0,931.3 1577.6,930.8 1579.2,929.0 1580.8,927.6 1582.4,927.6 1584.0,928.4 1585.6,927.5 1587.2,928.8 1588.8,927.2 1590.4,929.2 1592.0,929.4 1593.6,927.5 1595.2,929.2 1596.8,928.7 1598.4,934.3 1600.0,935.7 1601.6,933.8 1603.2,935.9 1604.8,933.5 1606.4,931.7 1608.0,932.5 1609.6,930.4 1611.2,926.2 1612.8,927.5 1614.4,926.5 1616.0,927.4 1617.6,931.5 1619.2,934.4 1620.8,937.6 1622.4,938.7 1624.0,937.3 1625.6,936.4 1627.2,932.7 1628.8,930.9 1630.4,932.2 1632.0,930.3 1633.6,931.2 1635.2,933.7 1636.8,940.2 1638.4,948.1 1640.0,940.4 1641.6,935.2 1643.2,931.2 1644.8,932.8 1646.4,932.1 1648.0,933.5 1649.6,935.8 1651.2,938.2 1652.8,940.9 1654.4,939.3 1656.0,931.9 1657.6,932.1 1659.2,932.6 1660.8,935.9 1662.4,939.1 1664.0,938.6 1665.6,936.5 1667.2,933.9 1668.8,935.0 1670.4,930.5 1672.0,930.8 1673.6,930.0 1675.2,933.0 1676.8,933.1 1678.4,936.5 1680.0,938.5 1681.6,938.3 1683.2,934.4 1684.8,933.1 1686.4,937.0 1688.0,942.9 1689.6,944.3 1691.2,945.2 1692.8,942.0 1694.4,939.1 1696.0,937.4 1697.6,932.0 1699.2,929.3 1700.8,933.1 1702.4,939.0 1704.0,939.8 1705.6,937.0 1707.2,936.4 1708.8,939.2 1710.4,945.9 1712.0,951.7 1713.6,950.7 1715.2,945.0 1716.8,940.0 1718.4,941.2 1720.0,943.1 1721.6,944.2 1723.2,946.0 1724.8,949.7 1726.4,946.3 1728.0,942.6 1729.6,940.2 1731.2,937.2 1732.8,941.4 1734.4,943.4 1736.0,940.9 1737.6,937.5 1739.2,936.7 1740.8,935.2 1742.4,938.4 1744.0,941.5 1745.6,943.1 1747.2,946.6 1748.8,940.9 1750.4,937.4 1752.0,938.3 1753.6,939.3 1755.2,942.7 1756.8,945.8 1758.4,948.5 1760.0,946.4 1761.6,942.0 1763.2,941.1 1764.8,940.8 1766.4,945.5 1768.0,944.8 1769.6,944.6 1771.2,944.7 1772.8,943.8 1774.4,943.0 1776.0,941.5 1777.6,943.5 1779.2,945.5 1780.8,945.8 1782.4,944.1 1784.0,940.3 1785.6,938.2 1787.2,939.8 1788.8,938.9 1790.4,940.9 1792.0,943.2 1793.6,942.7 1795.2,945.7 1796.8,946.2 1798.4,944.2 1800.0,943.4 1801.6,944.6 1803.2,944.8 1804.8,944.4 1806.4,950.6 1808.0,957.1 1809.6,950.9 1811.2,947.4 1812.8,944.3 1814.4,948.1 1816.0,948.3 1817.6,952.0 1819.2,955.6 1820.8,951.4 1822.4,946.4 1824.0,945.2 1825.6,946.5 1827.2,950.6 1828.8,944.6 1830.4,944.5 1832.0,946.7 1833.6,949.1 1835.2,948.0 1836.8,946.8 1838.4,947.4 1840.0,948.4 1841.6,947.1 1843.2,946.5 1844.8,945.2 1846.4,947.5 1848.0,945.7 1849.6,948.2 1851.2,953.1 1852.8,950.6 1854.4,948.8 1856.0,946.9 1857.6,950.6 1859.2,953.1 1860.8,950.1 1862.4,948.3 1864.0,942.9 1865.6,940.8 1867.2,944.4 1868.8,949.1 1870.4,948.2 1872.0,946.7 1873.6,945.8 1875.2,945.5 1876.8,951.7 1878.4,955.0 1880.0,956.8 1881.6,955.8 1883.2,949.9 1884.8,947.1 1886.4,950.1 1888.0,953.2 1889.6,952.2 1891.2,954.5 1892.8,953.2 1894.4,951.7 1896.0,952.2 1897.6,950.1 1899.2,947.9 1900.8,946.4 1902.4,945.7 1904.0,942.5 1905.6,943.4 1907.2,946.3 1908.8,944.5 1910.4,946.7 1912.0,947.2 1913.6,944.0 1915.2,943.1 1916.8,941.3 1918.4,941.9 1920.0,944.1 1921.6,947.9 1923.2,949.7 1924.8,951.2 1926.4,947.2 1928.0,950.0 1929.6,951.7 1931.2,956.4 1932.8,956.5 1934.4,956.8 1936.0,950.6 1937.6,947.6 1939.2,945.1 1940.8,945.8 1942.4,946.5 1944.0,946.7 1945.6,946.8 1947.2,944.2 1948.8,949.2 1950.4,954.8 1952.0,952.9 1953.6,947.2 1955.2,940.9 1956.8,940.6 1958.4,940.8 1960.0,945.1 1961.6,946.4 1963.2,947.2 1964.8,950.1 1966.4,947.4 1968.0,946.0 1969.6,946.9 1971.2,946.1 1972.8,946.8 1974.4,948.2 1976.0,951.4 1977.6,952.9 1979.2,951.6 1980.8,948.0 1982.4,944.1 1984.0,942.9 1985.6,944.7 1987.2,945.0 1988.8,942.1 1990.4,944.4 1992.0,944.1 1993.6,946.0 1995.2,946.2 1996.8,947.3 1998.4,948.9 2000.0,949.0 2001.6,949.8 2003.2,950.7 2004.8,947.8 2006.4,947.1 2008.0,940.8 2009.6,942.1 2011.2,945.1 2012.8,948.1 2014.4,944.9 2016.0,943.1 2017.6,943.8 2019.2,944.2 2020.8,945.4 2022.4,946.5 2024.0,944.4 2025.6,947.2 2027.2,945.5 2028.8,947.9 2030.4,944.2 2032.0,939.8 2033.6,940.0 2034.5,938.8"/>
<polyline stroke="#000000" points="208.0,1316.1 209.6,1317.4 211.2,1313.7 212.8,1316.1 214.4,1313.6 216.0,1313.0 217.6,1315.6 219.2,1312.4 220.8,1311.5 222.4,1312.1 224.0,1312.5 225.6,1313.3 227.2,1316.7 228.8,1316.9 230.4,1317.0 232.0,1315.7 233.6,1313.1 235.2,1311.5 236.8,1310.1 238.4,1310.9 240.0,1310.5 241.6,1310.8 243.2,1312.0 244.8,1310.5 246.4,1313.0 248.0,1314.0 249.6,1315.4 251.2,1313.6 252.8,1314.8 254.4,1312.5 256.0,1314.5 257.6,1311.6 259.2,1312.5 260.8,1316.0 262.4,1310.7 264.0,1314.9 265.6,1314.0 267.2,1313.3 268.8,1314.8 270.4,1315.1 272.0,1316.2 273.6,1314.5 275.2,1314.2 276.8,1314.5 278.4,1314.2 280.0,1314.2 281.6,1311.2 283.2,1312.2 284.8,1306.1 286.4,1306.8 288.0,1306.5 289.6,1304.3 291.2,1309.8 292.8,1302.8 294.4,1305.5 296.0,1304.7 297.6,1308.6 299.2,1304.2 300.8,1310.0 302.4,1308.4 304.0,1310.4 305.6,1310.8 307.2,1313.6 308.8,1310.8 310.4,1312.2 312.0,1312.7 313.6,1314.7 315.2,1308.2 316.8,1313.9 318.4,1312.8 320.0,1310.5 321.6,1311.4 323.2,1310.0 324.8,1312.8 326.4,1310.4 328.0,1309.5 329.6,1309.1 331.2,1308.9 332.8,1309.8 334.4,1311.6 336.0,1318.8 337.6,1315.7 339.2,1313.2 340.8,1317.3 342.4,1316.2 344.0,1315.8 345.6,1313.8 347.2,1312.9 348.8,1312.6 350.4,1312.5 352.0,1309.3 353.6,1308.4 355.2,1310.8 356.8,1307.6 358.4,1304.3 360.0,1308.2 361.6,1306.3 363.2,1305.0 364.8,1305.0 366.4,1308.0 368.0,1307.1 369.6,1307.6 371.2,1308.0 372.8,1309.0 374.4,1309.0 376.0,1304.3 377.6,1300.3 379.2,1303.6 380.8,1304.3 382.4,1307.1 384.0,1309.2 385.6,1308.7 387.2,1309.9 388.8,1311.2 390.4,1310.7 392.0,1314.5 393.6,1314.6 395.2,1308.5 396.8,1303.5 398.4,1299.9 400.0,1300.5 401.6,1301.9 403.2,1303.9 404.8,1304.6 406.4,1306.6 408.0,1306.3 409.6,1310.6 411.2,1310.7 412.8,1306.1 414.4,1301.6 416.0,1302.2 417.6,1301.1 419.2,1295.6 420.8,1296.3 422.4,1298.3 424.0,1302.4 425.6,1302.2 427.2,1307.3 428.8,1307.5 430.4,1311.6 432.0,1311.0 433.6,1305.2 435.2,1297.9 436.8,1297.0 438.4,1299.8 440.0,1303.3 441.6,1304.8 443.2,1305.5 444.8,1309.3 446.4,1308.2 448.0,1304.0 449.6,1300.9 451.2,1298.4 452.8,1298.4 454.4,1298.3 456.0,1296.4 457.6,1298.7 459.2,1297.7 460.8,1297.6 462.4,1300.9 464.0,1300.6 465.6,1300.0 467.2,1303.2 468.8,1305.9 470.4,1306.2 472.0,1308.2 473.6,1304.8 475.2,1296.5 476.8,1295.0 478.4,1293.1 480.0,1293.0 481.6,1290.5 483.2,1293.2 484.8,1291.7 486.4,1294.1 488.0,1294.4 489.6,1294.1 491.2,1292.8 492.8,1293.4 494.4,1296.2 496.0,1294.1 497.6,1296.8 499.2,1297.4 500.8,1296.9 502.4,1301.5 504.0,1298.6 505.6,1300.3 507.2,1291.9 508.8,1289.5 510.4,1292.3 512.0,1290.0 513.6,1288.9 515.2,1289.7 516.8,1287.3 518.4,1289.5 520.0,1289.8 521.6,1292.2 523.2,1295.0 524.8,1294.8 526.4,1296.2 528.0,1292.6 529.6,1290.9 531.2,1289.7 532.8,1289.3 534.4,1292.3 536.0,1289.8 537.6,1294.7 539.2,1289.1 540.8,1289.8 542.4,1284.7 544.0,1287.4 545.6,1284.5 547.2,1284.2 548.8,1284.1 550.4,1281.9 552.0,1283.2 553.6,1283.7 555.2,1290.5 556.8,1289.5 558.4,1288.8 560.0,1286.7 561.6,1286.7 563.2,1278.1 564.8,1278.1 566.4,1280.0 568.0,1285.2 569.6,1284.8 571.2,1285.1 572.8,1285.2 574.4,1284.5 576.0,1282.8 577.6,1279.1 579.2,1282.4 580.8,1284.0 582.4,1280.4 584.0,1277.1 585.6,1277.2 587.2,1273.2 588.8,1275.2 590.4,1279.8 592.0,1279.1 593.6,1281.6 595.2,1274.3 596.8,1270.3 598.4,1270.7 600.0,1269.7 601.6,1269.4 603.2,1268.9 604.8,1273.6 606.4,1273.2 608.0,1278.2 609.6,1280.4 611.2,1279.5 612.8,1281.8 614.4,1278.4 616.0,1276.1 617.6,1271.0 619.2,1273.6 620.8,1277.0 622.4,1277.0 624.0,1274.7 625.6,1272.3 627.2,1268.2 628.8,1264.7 630.4,1268.5 632.0,1269.8 633.6,1269.5 635.2,1274.0 636.8,1271.2 638.4,1262.2 640.0,1265.9 641.6,1265.4 643.2,1268.2 644.8,1272.3 646.4,1270.4 648.0,1273.6 649.6,1272.2 651.2,1275.9 652.8,1269.8 654.4,1267.4 656.0,1261.0 657.6,1261.7 659.2,1267.0 660.8,1269.6 662.4,1269.6 664.0,1272.4 665.6,1268.3 667.2,1262.3 668.8,1264.8 670.4,1261.3 672.0,1263.0 673.6,1265.1 675.2,1265.7 676.8,1265.1 678.4,1259.1 680.0,1255.7 681.6,1258.8 683.2,1258.1 684.8,1262.0 686.4,1262.3 688.0,1264.9 689.6,1262.9 691.2,1260.9 692.8,1258.5 694.4,1257.0 696.0,1255.8 697.6,1258.8 699.2,1260.6 700.8,1262.9 702.4,1261.3 704.0,1262.2 705.6,1257.2 707.2,1256.3 708.8,1253.6 710.4,1252.0 712.0,1253.1 713.6,1259.8 715.2,1259.6 716.8,1258.0 718.4,1253.1 720.0,1249.2 721.6,1242.8 723.2,1244.5 724.8,1248.6 726.4,1253.8 728.0,1249.2 729.6,1251.0 731.2,1247.2 732.8,1241.5 734.4,1246.2 736.0,1250.5 737.6,1253.8 739.2,1253.3 740.8,1255.8 742.4,1254.1 744.0,1253.0 745.6,1253.9 747.2,1253.5 748.8,1247.6 750.4,1245.9 752.0,1242.3 753.6,1238.0 755.2,1237.2 756.8,1233.9 758.4,1232.7 760.0,1230.3 761.6,1228.8 763.2,1232.8 764.8,1245.8 766.4,1242.7 768.0,1239.8 769.6,1239.8 771.2,1237.9 772.8,1234.4 774.4,1233.4 776.0,1229.2 777.6,1225.8 779.2,1221.4 780.8,1222.7 782.4,1228.5 784.0,1228.4 785.6,1226.9 787.2,1224.3 788.8,1223.4 790.4,1218.9 792.0,1218.2 793.6,1217.9 795.2,1218.0 796.8,1223.1 798.4,1224.4 800.0,1216.1 801.6,1216.7 803.2,1210.7 804.8,1207.6 806.4,1207.7 808.0,1209.5 809.6,1209.3 811.2,1209.3 812.8,1206.9 814.4,1204.7 816.0,1199.5 817.6,1200.0 819.2,1197.3 820.8,1194.9 822.4,1186.0 824.0,1189.9 825.6,1189.5 827.2,1195.6 828.8,1195.1 830.4,1187.5 832.0,1181.8 833.6,1183.0 835.2,1185.0 836.8,1184.2 838.4,1184.7 840.0,1173.6 841.6,1168.7 843.2,1171.0 844.8,1172.6 846.4,1176.3 848.0,1173.8 849.6,1166.6 851.2,1164.6 852.8,1162.4 854.4,1165.6 856.0,1168.2 857.6,1163.0 859.2,1155.8 860.8,1152.7 862.4,1145.1 864.0,1144.6 865.6,1145.1 867.2,1139.0 868.8,1138.7 870.4,1136.6 872.0,1138.7 873.6,1144.4 875.2,1146.2 876.8,1130.1 878.4,1125.9 880.0,1118.8 881.6,1115.9 883.2,1114.7 884.8,1110.0 886.4,1104.8 888.0,1105.7 889.6,1105.8 891.2,1107.4 892.8,1107.1 894.4,1101.7 896.0,1095.5 897.6,1090.1 899.2,1086.8 900.8,1094.4 902.4,1099.6 904.0,1098.4 905.6,1086.2 907.2,1074.5 908.8,1065.5 910.4,1065.2 912.0,1067.7 913.6,1066.4 915.2,1066.4 916.8,1064.7 918.4,1056.5 920.0,1051.5 921.6,1049.3 923.2,1047.9 924.8,1043.4 926.4,1036.6 928.0,1032.4 929.6,1030.0 931.2,1025.7 932.8,1024.2 934.4,1021.1 936.0,1020.0 937.6,1022.1 939.2,1023.2 940.8,1018.9 942.4,1004.3 944.0,1007.1 945.6,1008.3 947.2,1004.8 948.8,1004.3 950.4,1005.5 952.0,1004.1 953.6,998.2 955.2,982.7 956.8,977.2 958.4,975.8 960.0,974.0 961.6,972.2 963.2,971.9 964.8,968.1 966.4,959.3 968.0,951.0 969.6,955.6 971.2,959.2 972.8,966.5 974.4,958.1 976.0,948.1 977.6,938.4 979.2,932.5 980.8,937.9 982.4,943.2 984.0,950.4 985.6,947.2 987.2,941.6 988.8,938.2 990.4,941.2 992.0,942.3 993.6,945.4 995.2,937.9 996.8,935.6 998.4,937.9 1000.0,943.7 1001.6,949.5 1003.2,950.1 1004.8,942.2 1006.4,936.3 1008.0,944.1 1009.6,949.7 1011.2,951.7 1012.8,951.7 1014.4,947.5 1016.0,943.8 1017.6,945.1 1019.2,945.2 1020.8,947.7 1022.4,955.0 1024.0,955.8 1025.6,957.9 1027.2,959.1 1028.8,963.7 1030.4,969.1 1032.0,973.6 1033.6,969.3 1035.2,959.6 1036.8,963.9 1038.4,965.3 1040.0,967.1 1041.6,972.8 1043.2,975.8 1044.8,984.3 1046.4,994.4 1048.0,993.2 1049.6,994.9 1051.2,997.7 1052.8,1004.2 1054.4,1006.5 1056.0,1010.5 1057.6,1007.9 1059.2,1021.1 1060.8,1021.7 1062.4,1019.0 1064.0,1023.1 1065.6,1035.5 1067.2,1033.2 1068.8,1027.7 1070.4,1028.1 1072.0,1029.4 1073.6,1031.7 1075.2,1039.6 1076.8,1054.8 1078.4,1064.7 1080.0,1062.2 1081.6,1061.9 1083.2,1058.0 1084.8,1069.1 1086.4,1070.8 1088.0,1069.2 1089.6,1070.9 1091.2,1083.1 1092.8,1085.0 1094.4,1084.2 1096.0,1090.4 1097.6,1089.5 1099.2,1091.3 1100.8,1097.1 1102.4,1098.0 1104.0,1105.2 1105.6,1104.5 1107.2,1108.0 1108.8,1109.2 1110.4,1114.3 1112.0,1105.7 1113.6,1106.2 1115.2,1107.7 1116.8,1112.8 1118.4,1115.3 1120.0,1122.9 1121.6,1126.2 1123.2,1125.8 1124.8,1124.3 1126.4,1123.7 1128.0,1123.2 1129.6,1122.9 1131.2,1123.9 1132.8,1125.8 1134.4,1133.8 1136.0,1137.4 1137.6,1140.7 1139.2,1136.5 1140.8,1132.3 1142.4,1132.5 1144.0,1139.7 1145.6,1142.0 1147.2,1143.3 1148.8,1146.0 1150.4,1151.1 1152.0,1151.4 1153.6,1151.8 1155.2,1152.3 1156.8,1150.1 1158.4,1149.0 1160.0,1148.8 1161.6,1150.5 1163.2,1153.7 1164.8,1153.9 1166.4,1154.1 1168.0,1151.9 1169.6,1152.7 1171.2,1152.4 1172.8,1152.6 1174.4,1154.5 1176.0,1156.4 1177.6,1156.4 1179.2,1154.2 1180.8,1149.9 1182.4,1153.1 1184.0,1154.7 1185.6,1156.5 1187.2,1158.0 1188.8,1155.6 1190.4,1156.8 1192.0,1156.8 1193.6,1159.4 1195.2,1163.1 1196.8,1162.5 1198.4,1161.7 1200.0,1158.7 1201.6,1156.9 1203.2,1156.8 1204.8,1155.3 1206.4,1153.4 1208.0,1150.9 1209.6,1151.0 1211.2,1150.9 1212.8,1158.3 1214.4,1160.5 1216.0,1159.9 1217.6,1160.1 1219.2,1158.7 1220.8,1155.3 1222.4,1156.6 1224.0,1157.3 1225.6,1154.9 1227.2,1153.6 1228.8,1158.1 1230.4,1159.1 1232.0,1160.8 1233.6,1158.0 1235.2,1155.3 1236.8,1152.7 1238.4,1151.8 1240.0,1150.9 1241.6,1151.3 1243.2,1150.3 1244.8,1153.2 1246.4,1152.4 1248.0,1154.9 1249.6,1151.8 1251.2,1153.4 1252.8,1150.8 1254.4,1148.2 1256.0,1148.3 1257.6,1144.3 1259.2,1140.8 1260.8,1140.5 1262.4,1145.0 1264.0,1144.2 1265.6,1143.5 1267.2,1138.8 1268.8,1139.4 1270.4,1136.6 1272.0,1133.8 1273.6,1132.4 1275.2,1129.3 1276.8,1133.9 1278.4,1132.5 1280.0,1136.6 1281.6,1133.3 1283.2,1129.1 1284.8,1126.6 1286.4,1122.4 1288.0,1118.4 1289.6,1118.9 1291.2,1118.8 1292.8,1117.3 1294.4,1115.7 1296.0,1117.3 1297.6,1112.1 1299.2,1108.4 1300.8,1105.1 1302.4,1100.7 1304.0,1096.3 1305.6,1091.1 1307.2,1094.6 1308.8,1094.3 1310.4,1089.7 1312.0,1083.8 1313.6,1084.8 1315.2,1078.4 1316.8,1076.3 1318.4,1077.9 1320.0,1073.4 1321.6,1074.4 1323.2,1061.3 1324.8,1056.5 1326.4,1056.9 1328.0,1055.8 1329.6,1053.8 1331.2,1052.5 1332.8,1049.6 1334.4,1043.6 1336.0,1037.7 1337.6,1030.9 1339.2,1022.1 1340.8,1014.8 1342.4,1012.9 1344.0,1016.2 1345.6,1018.1 1347.2,1001.6 1348.8,999.1 1350.4,997.1 1352.0,990.3 1353.6,984.7 1355.2,984.2 1356.8,978.0 1358.4,981.4 1360.0,979.6 1361.6,981.7 1363.2,964.1 1364.8,960.8 1366.4,958.8 1368.0,961.0 1369.6,962.7 1371.2,952.2 1372.8,950.7 1374.4,948.1 1376.0,949.1 1377.6,951.7 1379.2,948.3 1380.8,944.6 1382.4,944.4 1384.0,957.3 1385.6,956.5 1387.2,948.9 1388.8,946.9 1390.4,945.4 1392.0,949.1 1393.6,953.7 1395.2,954.8 1396.8,966.3 1398.4,975.8 1400.0,981.2 1401.6,981.5 1403.2,977.0 1404.8,978.2 1406.4,986.5 1408.0,992.6 1409.6,997.0 1411.2,1003.2 1412.8,1011.3 1414.4,1012.3 1416.0,1012.0 1417.6,1027.5 1419.2,1041.4 1420.8,1047.4 1422.4,1054.2 1424.0,1069.0 1425.6,1074.8 1427.2,1080.5 1428.8,1091.7 1430.4,1099.0 1432.0,1104.0 1433.6,1112.6 1435.2,1123.9 1436.8,1133.9 1438.4,1137.0 1440.0,1147.5 1441.6,1150.6 1443.2,1160.6 1444.8,1167.0 1446.4,1173.2 1448.0,1179.9 1449.6,1188.2 1451.2,1187.9 1452.8,1194.3 1454.4,1196.0 1456.0,1201.1 1457.6,1203.6 1459.2,1213.4 1460.8,1217.3 1462.4,1220.3 1464.0,1226.3 1465.6,1225.0 1467.2,1227.1 1468.8,1228.0 1470.4,1228.4 1472.0,1228.9 1473.6,1232.1 1475.2,1237.8 1476.8,1241.2 1478.4,1245.4 1480.0,1248.6 1481.6,1246.4 1483.2,1250.6 1484.8,1249.3 1486.4,1251.3 1488.0,1257.3 1489.6,1260.8 1491.2,1263.5 1492.8,1268.3 1494.4,1268.8 1496.0,1266.8 1497.6,1260.7 1499.2,1259.4 1500.8,1270.1 1502.4,1270.4 1504.0,1272.5 1505.6,1275.1 1507.2,1275.1 1508.8,1278.5 1510.4,1276.4 1512.0,1279.0 1513.6,1278.3 1515.2,1283.2 1516.8,1281.4 1518.4,1284.2 1520.0,1285.4 1521.6,1282.0 1523.2,1282.9 1524.8,1283.8 1526.4,1283.2 1528.0,1286.1 1529.6,1290.7 1531.2,1294.0 1532.8,1294.3 1534.4,1292.8 1536.0,1291.8 1537.6,1289.2 1539.2,1290.7 1540.8,1290.5 1542.4,1296.4 1544.0,1295.1 1545.6,1297.4 1547.2,1298.5 1548.8,1300.2 1550.4,1302.0 1552.0,1302.1 1553.6,1305.5 1555.2,1304.8 1556.8,1300.8 1558.4,1298.5 1560.0,1296.8 1561.6,1298.9 1563.2,1304.3 1564.8,1303.3 1566.4,1305.8 1568.0,1306.7 1569.6,1305.6 1571.2,1303.6 1572.8,1303.6 1574.4,1307.1 1576.0,1302.5 1577.6,1303.1 1579.2,1304.0 1580.8,1304.5 1582.4,1302.7 1584.0,1303.6 1585.6,1307.4 1587.2,1307.5 1588.8,1308.5 1590.4,1308.0 1592.0,1307.0 1593.6,1304.4 1595.2,1305.4 1596.8,1310.8 1598.4,1310.0 1600.0,1310.7 1601.6,1310.8 1603.2,1315.9 1604.8,1311.3 1606.4,1309.7 1608.0,1310.2 1609.6,1309.3 1611.2,1310.0 1612.8,1307.5 1614.4,1305.4 1616.0,1310.4 1617.6,1314.7 1619.2,1314.6 1620.8,1316.1 1622.4,1314.5 1624.0,1311.6 1625.6,1313.3 1627.2,1311.6 1628.8,1310.5 1630.4,1312.2 1632.0,1311.1 1633.6,1320.3 1635.2,1318.4 1636.8,1311.7 1638.4,1312.4 1640.0,1311.8 1641.6,1312.6 1643.2,1315.7 1644.8,1317.6 1646.4,1314.3 1648.0,1308.9 1649.6,1309.9 1651.2,1318.3 1652.8,1318.2 1654.4,1309.6 1656.0,1314.3 1657.6,1318.2 1659.2,1313.7 1660.8,1313.3 1662.4,1312.7 1664.0,1317.9 1665.6,1320.2 1667.2,1318.6 1668.8,1320.5 1670.4,1316.1 1672.0,1315.6 1673.6,1315.8 1675.2,1314.7 1676.8,1318.6 1678.4,1322.2 1680.0,1318.4 1681.6,1317.0 1683.2,1314.0 1684.8,1317.4 1686.4,1316.8 1688.0,1318.4 1689.6,1318.8 1691.2,1319.8 1692.8,1317.5 1694.4,1318.5 1696.0,1319.0 1697.6,1315.1 1699.2,1315.9 1700.8,1314.7 1702.4,1315.0 1704.0,1321.5 1705.6,1320.8 1707.2,1320.8 1708.8,1319.6 1710.4,1321.4 1712.0,1321.2 1713.6,1321.6 1715.2,1321.1 1716.8,1323.6 1718.4,1320.9 1720.0,1321.1 1721.6,1321.2 1723.2,1324.1 1724.8,1319.5 1726.4,1319.6 1728.0,1323.4 1729.6,1325.0 1731.2,1326.3 1732.8,1323.1 1734.4,1322.6 1736.0,1323.5 1737.6,1324.4 1739.2,1325.6 1740.8,1326.4 1742.4,1322.8 1744.0,1321.4 1745.6,1322.8 1747.2,1323.2 1748.8,1332.0 1750.4,1328.1 1752.0,1328.1 1753.6,1326.8 1755.2,1325.9 1756.8,1322.2 1758.4,1325.8 1760.0,1322.9 1761.6,1324.0 1763.2,1329.8 1764.8,1324.8 1766.4,1329.4 1768.0,1328.9 1769.6,1325.2 1771.2,1328.7 1772.8,1322.9 1774.4,1325.4 1776.0,1325.1 1777.6,1325.5 1779.2,1323.8 1780.8,1327.5 1782.4,1326.8 1784.0,1325.5 1785.6,1326.5 1787.2,1327.0 1788.8,1322.8 1790.4,1325.0 1792.0,1329.6 1793.6,1330.6 1795.2,1323.8 1796.8,1321.3 1798.4,1324.3 1800.0,1323.5 1801.6,1327.6 1803.2,1325.4 1804.8,1330.1 1806.4,1334.0 1808.0,1334.1 1809.6,1334.0 1811.2,1334.5 1812.8,1332.3 1814.4,1332.4 1816.0,1330.2 1817.6,1332.5 1819.2,1328.6 1820.8,1328.6 1822.4,1325.6 1824.0,1331.8 1825.6,1329.8 1827.2,1330.6 1828.8,1328.8 1830.4,1326.9 1832.0,1327.0 1833.6,1329.0 1835.2,1330.2 1836.8,1328.6 1838.4,1331.8 1840.0,1330.1 1841.6,1332.3 1843.2,1330.4 1844.8,1333.7 1846.4,1335.9 1848.0,1332.3 1849.6,1334.9 1851.2,1330.3 1852.8,1330.9 1854.4,1335.3 1856.0,1330.6 1857.6,1330.8 1859.2,1328.5 1860.8,1332.3 1862.4,1332.6 1864.0,1336.9 1865.6,1335.7 1867.2,1340.7 1868.8,1333.7 1870.4,1334.3 1872.0,1329.3 1873.6,1330.2 1875.2,1332.7 1876.8,1331.4 1878.4,1330.2 1880.0,1333.5 1881.6,1334.8 1883.2,1334.7 1884.8,1335.1 1886.4,1330.7 1888.0,1334.7 1889.6,1332.2 1891.2,1327.3 1892.8,1333.4 1894.4,1330.1 1896.0,1331.8 1897.6,1328.2 1899.2,1330.5 1900.8,1328.9 1902.4,1333.1 1904.0,1331.6 1905.6,1330.1 1907.2,1330.4 1908.8,1332.2 1910.4,1328.8 1912.0,1330.3 1913.6,1328.0 1915.2,1327.9 1916.8,1330.3 1918.4,1331.2 1920.0,1332.5 1921.6,1334.3 1923.2,1333.6 1924.8,1335.3 1926.4,1338.5 1928.0,1338.8 1929.6,1337.5 1931.2,1337.3 1932.8,1333.0 1934.4,1334.8 1936.0,1332.6 1937.6,1333.9 1939.2,1335.0 1940.8,1330.3 1942.4,1333.4 1944.0,1330.3 1945.6,1331.7 1947.2,1332.9 1948.8,1336.3 1950.4,1335.9 1952.0,1335.4 1953.6,1339.6 1955.2,1338.0 1956.8,1338.2 1958.4,1337.2 1960.0,1333.5 1961.6,1334.7 1963.2,1333.6 1964.8,1333.6 1966.4,1334.8 1968.0,1336.0 1969.6,1335.7 1971.2,1337.2 1972.8,1336.9 1974.4,1331.9 1976.0,1331.4 1977.6,1330.1 1979.2,1331.0 1980.8,1333.0 1982.4,1334.9 1984.0,1338.0 1985.6,1336.4 1987.2,1339.2 1988.8,1338.0 1990.4,1334.1 1992.0,1327.8 1993.6,1333.7 1995.2,1334.6 1996.8,1334.0 1998.4,1336.9 2000.0,1339.9 2001.6,1336.4 2003.2,1336.6 2004.8,1337.9 2006.4,1333.1 2008.0,1333.4 2009.6,1334.6 2011.2,1335.3 2012.8,1335.3 2014.4,1334.2 2016.0,1336.2 2017.6,1332.9 2019.2,1330.1 2020.8,1335.0 2022.4,1338.0 2024.0,1336.6 2025.6,1332.1 2027.2,1334.5 2028.8,1331.7 2030.4,1331.6 2032.0,1333.1 2033.6,1332.8 2034.5,1334.2"/>
</g>
<line x1="996.9" y1="119.7" x2="996.9" y2="1234" stroke="#000" stroke-width="5.3" stroke-dasharray="19.5 28.1"/>
<line x1="1380.5" y1="97.6" x2="1380.5" y2="1260" stroke="#ff0000" stroke-width="5.3" stroke-dasharray="19.5 28.1"/>
<g transform="matrix(1.0698 0 0 1.0120 676.68 200.90)" fill="#000"><text x="0" y="0" style='font-family:"Liberation Sans", Arial, sans-serif;font-style:normal;font-size:72px'>D</text></g>
<g transform="matrix(1.0765 0 0 0.9814 753.97 201.33)" fill="#000"><text x="0" y="0" style='font-family:"Liberation Sans", Arial, sans-serif;font-style:normal;font-size:72px'>band</text></g>
<g transform="matrix(1.1065 0 0 1.0216 1468.77 203.40)" fill="#000"><text x="0" y="0" style='font-family:"Liberation Sans", Arial, sans-serif;font-style:normal;font-size:72px'>G</text></g>
<g transform="matrix(1.0719 0 0 0.9852 1551.89 203.43)" fill="#000"><text x="0" y="0" style='font-family:"Liberation Sans", Arial, sans-serif;font-style:normal;font-size:72px'>band</text></g>
<defs><clipPath id="cp_t1000" clipPathUnits="userSpaceOnUse"><rect x="-10000" y="-10000" width="20000" height="9992.52"/><rect x="-10000.00" y="-10000" width="10003.40" height="20000"/><rect x="16.94" y="-10000" width="6.25" height="20000"/><rect x="36.04" y="-10000" width="9963.96" height="20000"/></clipPath></defs>
<g transform="matrix(1.0488 0 0 1.0157 367.53 1507.22)" fill="#000"><text x="0" y="0" clip-path="url(#cp_t1000)" style='font-family:"Liberation Sans", Arial, sans-serif;font-style:normal;font-size:68px'>1000</text></g>
<defs><clipPath id="cp_t1200" clipPathUnits="userSpaceOnUse"><rect x="-10000" y="-10000" width="20000" height="9992.52"/><rect x="-10000.00" y="-10000" width="10003.40" height="20000"/><rect x="16.94" y="-10000" width="6.25" height="20000"/><rect x="36.04" y="-10000" width="9963.96" height="20000"/></clipPath></defs>
<g transform="matrix(1.0551 0 0 1.0157 685.19 1507.22)" fill="#000"><text x="0" y="0" clip-path="url(#cp_t1200)" style='font-family:"Liberation Sans", Arial, sans-serif;font-style:normal;font-size:68px'>1200</text></g>
<defs><clipPath id="cp_t1400" clipPathUnits="userSpaceOnUse"><rect x="-10000" y="-10000" width="20000" height="9992.52"/><rect x="-10000.00" y="-10000" width="10003.40" height="20000"/><rect x="16.94" y="-10000" width="6.25" height="20000"/><rect x="36.04" y="-10000" width="9963.96" height="20000"/></clipPath></defs>
<g transform="matrix(1.0509 0 0 1.0157 1002.11 1507.22)" fill="#000"><text x="0" y="0" clip-path="url(#cp_t1400)" style='font-family:"Liberation Sans", Arial, sans-serif;font-style:normal;font-size:68px'>1400</text></g>
<defs><clipPath id="cp_t1600" clipPathUnits="userSpaceOnUse"><rect x="-10000" y="-10000" width="20000" height="9992.52"/><rect x="-10000.00" y="-10000" width="10003.40" height="20000"/><rect x="16.94" y="-10000" width="6.25" height="20000"/><rect x="36.04" y="-10000" width="9963.96" height="20000"/></clipPath></defs>
<g transform="matrix(1.0509 0 0 1.0156 1319.31 1507.21)" fill="#000"><text x="0" y="0" clip-path="url(#cp_t1600)" style='font-family:"Liberation Sans", Arial, sans-serif;font-style:normal;font-size:68px'>1600</text></g>
<defs><clipPath id="cp_t1800" clipPathUnits="userSpaceOnUse"><rect x="-10000" y="-10000" width="20000" height="9992.52"/><rect x="-10000.00" y="-10000" width="10003.40" height="20000"/><rect x="16.94" y="-10000" width="6.25" height="20000"/><rect x="36.04" y="-10000" width="9963.96" height="20000"/></clipPath></defs>
<g transform="matrix(1.0509 0 0 1.0153 1637.21 1507.20)" fill="#000"><text x="0" y="0" clip-path="url(#cp_t1800)" style='font-family:"Liberation Sans", Arial, sans-serif;font-style:normal;font-size:68px'>1800</text></g>
<g transform="matrix(1.0589 0 0 1.0094 1953.92 1507.22)" fill="#000"><text x="0" y="0" style='font-family:"Liberation Sans", Arial, sans-serif;font-style:normal;font-size:68px'>2000</text></g>
<g transform="matrix(1.1284 0 0 0.9890 255.49 1267.18)" fill="#000"><text x="0" y="0" style='font-family:"Liberation Sans", Arial, sans-serif;font-style:normal;font-size:77px'>(a)</text></g>
<g transform="matrix(1.1390 0 0 0.9877 257.44 998.20)" fill="#000"><text x="0" y="0" style='font-family:"Liberation Sans", Arial, sans-serif;font-style:normal;font-size:77px'>(b)</text></g>
<g transform="matrix(1.1320 0 0 0.9877 253.77 713.10)" fill="#000"><text x="0" y="0" style='font-family:"Liberation Sans", Arial, sans-serif;font-style:normal;font-size:77px'>(c)</text></g>
<g transform="matrix(1.1017 0 0 0.9849 776.69 1657.04)" fill="#000"><text x="0" y="0" style='font-family:"Liberation Sans", Arial, sans-serif;font-style:normal;font-size:77px'>Raman shift (cm</text></g>
<defs><clipPath id="cp_xsup" clipPathUnits="userSpaceOnUse"><rect x="-10000" y="-10000" width="20000" height="9994.94"/><rect x="-10000.00" y="-10000" width="10017.62" height="20000"/><rect x="26.71" y="-10000" width="4.36" height="20000"/><rect x="39.70" y="-10000" width="9960.30" height="20000"/></clipPath></defs>
<g transform="matrix(1.1596 0 0 1.0312 1392.78 1609.90)" fill="#000"><text x="0" y="0" clip-path="url(#cp_xsup)" style='font-family:"Liberation Sans", Arial, sans-serif;font-style:normal;font-size:46px'>-1</text></g>
<g transform="matrix(0.9913 0 0 0.9849 1443.18 1657.04)" fill="#000"><text x="0" y="0" style='font-family:"Liberation Sans", Arial, sans-serif;font-style:normal;font-size:77px'>)</text></g>
<g transform="matrix(1.0849 0 0 1.0015 91.44 1029.91)" fill="#000"><text x="0" y="0" transform="rotate(-90)" style='font-family:"Liberation Sans", Arial, sans-serif;font-style:normal;font-size:77px'>Intensity (a.u.)</text></g>
<g transform="matrix(0.9983 0 0 1.0020 1561.53 585.00)" fill="#000"><text x="0" y="0" transform="skewX(-9)" style='font-family:"Liberation Serif", "Times New Roman", serif;font-style:italic;font-size:76px'>I</text></g>
<g transform="matrix(1.1345 0 0 1.0207 1591.77 618.70)" fill="#000"><text x="0" y="0" style='font-family:"Liberation Serif", "Times New Roman", serif;font-style:normal;font-size:44px'>D</text></g>
<g transform="matrix(1.0847 0 0 1.0431 1647.00 585.06)" fill="#000"><text x="0" y="0" style='font-family:"Liberation Serif", "Times New Roman", serif;font-style:normal;font-size:76px'>/</text></g>
<g transform="matrix(1.0038 0 0 1.0020 1688.43 585.00)" fill="#000"><text x="0" y="0" transform="skewX(-9)" style='font-family:"Liberation Serif", "Times New Roman", serif;font-style:italic;font-size:76px'>I</text></g>
<g transform="matrix(1.1666 0 0 1.0897 1717.35 619.90)" fill="#000"><text x="0" y="0" style='font-family:"Liberation Serif", "Times New Roman", serif;font-style:normal;font-size:44px'>G</text></g>
<g transform="matrix(1.2296 0 0 0.8158 1771.75 580.95)" fill="#000"><text x="0" y="0" style='font-family:"Liberation Serif", "Times New Roman", serif;font-style:normal;font-size:76px'>=</text></g>
<g transform="matrix(1.0292 0 0 1.0090 1843.91 584.89)" fill="#000"><text x="0" y="0" style='font-family:"Liberation Serif", "Times New Roman", serif;font-style:normal;font-size:76px'>1.01</text></g>
<g transform="matrix(1.0011 0 0 1.0020 1559.53 876.10)" fill="#000"><text x="0" y="0" transform="skewX(-9)" style='font-family:"Liberation Serif", "Times New Roman", serif;font-style:italic;font-size:76px'>I</text></g>
<g transform="matrix(1.1448 0 0 1.0207 1588.66 908.70)" fill="#000"><text x="0" y="0" style='font-family:"Liberation Serif", "Times New Roman", serif;font-style:normal;font-size:44px'>D</text></g>
<g transform="matrix(1.0942 0 0 1.0392 1644.90 875.96)" fill="#000"><text x="0" y="0" style='font-family:"Liberation Serif", "Times New Roman", serif;font-style:normal;font-size:76px'>/</text></g>
<g transform="matrix(1.0011 0 0 1.0020 1685.43 876.10)" fill="#000"><text x="0" y="0" transform="skewX(-9)" style='font-family:"Liberation Serif", "Times New Roman", serif;font-style:italic;font-size:76px'>I</text></g>
<g transform="matrix(1.1736 0 0 1.0897 1715.04 909.90)" fill="#000"><text x="0" y="0" style='font-family:"Liberation Serif", "Times New Roman", serif;font-style:normal;font-size:44px'>G</text></g>
<g transform="matrix(1.2212 0 0 0.7947 1769.08 871.42)" fill="#000"><text x="0" y="0" style='font-family:"Liberation Serif", "Times New Roman", serif;font-style:normal;font-size:76px'>=</text></g>
<g transform="matrix(1.0720 0 0 1.0103 1838.98 875.99)" fill="#000"><text x="0" y="0" style='font-family:"Liberation Serif", "Times New Roman", serif;font-style:normal;font-size:76px'>0.98</text></g>
<g transform="matrix(1.0011 0 0 1.0020 1563.63 1250.00)" fill="#000"><text x="0" y="0" transform="skewX(-9)" style='font-family:"Liberation Serif", "Times New Roman", serif;font-style:italic;font-size:76px'>I</text></g>
<g transform="matrix(1.1345 0 0 1.0276 1592.77 1282.90)" fill="#000"><text x="0" y="0" style='font-family:"Liberation Serif", "Times New Roman", serif;font-style:normal;font-size:44px'>D</text></g>
<g transform="matrix(1.0942 0 0 1.0431 1649.00 1250.06)" fill="#000"><text x="0" y="0" style='font-family:"Liberation Serif", "Times New Roman", serif;font-style:normal;font-size:76px'>/</text></g>
<g transform="matrix(1.0011 0 0 1.0020 1689.53 1250.00)" fill="#000"><text x="0" y="0" transform="skewX(-9)" style='font-family:"Liberation Serif", "Times New Roman", serif;font-style:italic;font-size:76px'>I</text></g>
<g transform="matrix(1.1666 0 0 1.0931 1719.35 1283.70)" fill="#000"><text x="0" y="0" style='font-family:"Liberation Serif", "Times New Roman", serif;font-style:normal;font-size:44px'>G</text></g>
<g transform="matrix(1.2296 0 0 0.8158 1772.65 1245.95)" fill="#000"><text x="0" y="0" style='font-family:"Liberation Serif", "Times New Roman", serif;font-style:normal;font-size:76px'>=</text></g>
<g transform="matrix(1.0413 0 0 1.0216 1845.83 1250.08)" fill="#000"><text x="0" y="0" style='font-family:"Liberation Serif", "Times New Roman", serif;font-style:normal;font-size:76px'>1.15</text></g>
</svg>
</body></html>
